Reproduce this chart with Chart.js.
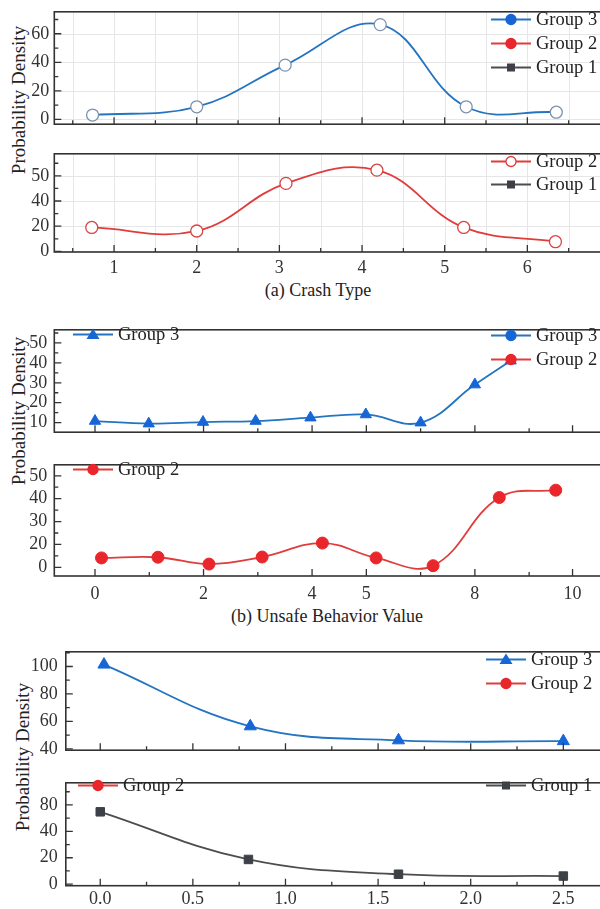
<!DOCTYPE html>
<html lang="en">
<head>
  <meta charset="UTF-8" />
  <title>Probability Density</title>
  <script src="https://cdn.jsdelivr.net/npm/chart.js"></script>
  <style>
    html, body { margin: 0; padding: 0; background: #fff; overflow: hidden; }
    #fig { position: relative; width: 600px; height: 909px; overflow: hidden;
           font-family: "Liberation Serif", serif; color: #222; }
    .panel { position: absolute; left: 0; width: 620px; }
    .ylab { position: absolute; transform: translate(-50%, -50%) rotate(-90deg);
            white-space: nowrap; font-size: 19px; line-height: 1; }
    .cap { position: absolute; transform: translate(-50%, -50%); font-size: 18px; white-space: nowrap; }
    .leg { position: absolute; display: flex; align-items: center; transform: translateY(-50%);
           font-size: 18.5px; white-space: nowrap; }
    .leg svg { margin-right: 5px; }
  </style>
</head>

<body>
  <div id="fig">
    <div class="ylab" style="left:18px; top:100px">Probability Density</div>
    <div class="ylab" style="left:18px; top:411px">Probability Density</div>
    <div class="ylab" style="left:22px; top:757px">Probability Density</div>
    <div class="cap" style="left:318px; top:290px">(a) Crash Type</div>
    <div class="cap" style="left:327px; top:616px">(b) Unsafe Behavior Value</div>
  </div>

  <script>
    // (a) Crash Type
    const crashTicks = [1, 2, 3, 4, 5, 6];
    const crashTickLabels = ["1", "2", "3", "4", "5", "6"];
    const crashXTop = [0.74, 2.0, 3.07, 4.22, 5.26, 6.35];
    const crashGroup3 = [3, 8.8, 38, 66.4, 8.8, 5];
    const crashXBottom = [0.73, 2.0, 3.08, 4.18, 5.23, 6.34];
    const crashGroup2 = [19, 16.2, 54, 64.5, 19, 7.7];
    const crashYTicks = [0, 20, 40, 60];
    const crashYLabelsTop = ["0", "20", "40", "60"];
    const crashYLabelsBottom = ["0", "20", "40", "50"];

    // (b) Unsafe Behavior Value
    const unsafeTicks = [0, 2, 4, 5, 7, 8.8];
    const unsafeTickLabels = ["0", "2", "4", "5", "8", "10"];
    const unsafeXTop = [0, 0.99, 1.99, 2.96, 3.97, 4.99, 6.0, 7.0, 7.66];
    const unsafeGroup3 = [10.8, 9.5, 10.3, 10.8, 12.5, 14.1, 10, 29.1, 41.1];
    const unsafeXBottom = [0.12, 1.16, 2.1, 3.08, 4.19, 5.18, 6.23, 7.45, 8.49];
    const unsafeGroup2 = [14.1, 14.4, 11.4, 14.5, 20.6, 14.1, 10.7, 40.5, 43.7];
    const unsafeYTicks = [10, 20, 30, 40, 50];
    const unsafeYLabelsTop = ["10", "20", "30", "40", "50"];
    const unsafeYLabelsBottom = ["0", "20", "30", "40", "50"];

    // (c)
    const cTicks = [0, 0.5, 1, 1.5, 2, 2.5];
    const cTickLabels = ["0.0", "0.5", "1.0", "1.5", "2.0", "2.5"];
    const cXTop = [0.02, 0.81, 1.61, 2.5];
    const cGroup3 = [101.4, 56.4, 46.2, 45.6];
    const cXBottom = [0, 0.8, 1.61, 2.5];
    const cGroup1 = [54.8, 18.7, 7.5, 6.1];
    const cYTicksTop = [40, 60, 80, 100];
    const cYLabelsTop = ["40", "60", "80", "100"];
    const cYTicksBottom = [0, 20, 40, 60];
    const cYLabelsBottom = ["0", "20", "40", "80"];

    const BLUE = "#2474c2", BLUE_PT = "#1766d6";
    const RED = "#e03c3c", RED_PT = "#e8262b";
    const GRAY = "#4d4d4d", GRAY_PT = "#3d4147";

    Chart.defaults.font.family = '"Liberation Serif", serif';
    Chart.defaults.color = "#333";

    const toPts = (xs, ys) => xs.map((x, i) => ({ x: x, y: ys[i] }));

    const panels = [
      {
        top: 6.7, bottom: 138, left: 54.3, grid: true,
        xMin: 0.277, xMax: 7.0, yMin: -3.4, yMax: 75.4,
        xTicks: crashTicks, xMinor: [0.5, 1.5, 2.5, 3.5, 4.5, 5.5, 6.5],
        yTicks: crashYTicks, yLabels: crashYLabelsTop, yMinor: [10, 30, 50, 70], yPad: 5,
        dataset: { data: toPts(crashXTop, crashGroup3), borderColor: BLUE, pointStyle: "circle",
                   pointRadius: 6, pointBackgroundColor: "#fff", pointBorderColor: "#7d93ad", pointBorderWidth: 1.3 },
        legend: [
          { x: 491, y: 19, text: "Group 3", color: BLUE, fill: BLUE_PT, marker: "circle" },
          { x: 491, y: 43, text: "Group 2", color: RED, fill: RED_PT, marker: "circle" },
          { x: 491, y: 67, text: "Group 1", color: GRAY, fill: GRAY_PT, marker: "rect" }
        ]
      },
      {
        top: 148.3, bottom: 252, left: 54.3, grid: true,
        xMin: 0.277, xMax: 7.0, yMin: -0.5, yMax: 77.5,
        xTicks: crashTicks, xLabels: crashTickLabels, xMinor: [0.5, 1.5, 2.5, 3.5, 4.5, 5.5, 6.5], xPad: 5,
        yTicks: crashYTicks, yLabels: crashYLabelsBottom, yMinor: [10, 30, 50, 70], yPad: 5,
        dataset: { data: toPts(crashXBottom, crashGroup2), borderColor: RED, pointStyle: "circle",
                   pointRadius: 6, pointBackgroundColor: "#fff", pointBorderColor: "#d64545", pointBorderWidth: 1.3 },
        legend: [
          { x: 491, y: 161, text: "Group 2", color: RED, fill: "#fff", marker: "circle" },
          { x: 491, y: 184, text: "Group 1", color: GRAY, fill: GRAY_PT, marker: "rect" }
        ]
      },
      {
        top: 322.3, bottom: 447.7, left: 54.3,
        xMin: -0.75, xMax: 9.49, yMin: 5.2, yMax: 56.6,
        xTicks: unsafeTicks, xMinor: [1, 3, 6, 8],
        yTicks: unsafeYTicks, yLabels: unsafeYLabelsTop, yMinor: [15, 25, 35, 45, 55], yPad: 7,
        dataset: { data: toPts(unsafeXTop, unsafeGroup3), borderColor: BLUE, pointStyle: "triangle",
                   pointRadius: 6.5, pointBackgroundColor: BLUE_PT, pointBorderColor: BLUE_PT, pointBorderWidth: 1 },
        legend: [
          { x: 73, y: 334, text: "Group 3", color: BLUE, fill: BLUE_PT, marker: "triangle" },
          { x: 491, y: 335, text: "Group 3", color: BLUE, fill: BLUE_PT, marker: "circle" },
          { x: 491, y: 359, text: "Group 2", color: RED, fill: RED_PT, marker: "circle" }
        ]
      },
      {
        top: 457.3, bottom: 576, left: 54.3,
        xMin: -0.75, xMax: 9.49, yMin: 6.2, yMax: 54.8,
        xTicks: unsafeTicks, xLabels: unsafeTickLabels, xMinor: [1, 3, 6, 8], xPad: 7,
        yTicks: unsafeYTicks, yLabels: unsafeYLabelsBottom, yMinor: [15, 25, 35, 45], yPad: 7,
        dataset: { data: toPts(unsafeXBottom, unsafeGroup2), borderColor: RED, pointStyle: "circle",
                   pointRadius: 6, pointBackgroundColor: RED_PT, pointBorderColor: RED_PT, pointBorderWidth: 1 },
        legend: [
          { x: 73, y: 469, text: "Group 2", color: RED, fill: RED_PT, marker: "circle" }
        ]
      },
      {
        top: 643.3, bottom: 766.7, left: 65.8,
        xMin: -0.186, xMax: 2.752, yMin: 39, yMax: 110.7,
        xTicks: cTicks, xMinor: [0.25, 0.75, 1.25, 1.75, 2.25, 2.75],
        yTicks: cYTicksTop, yLabels: cYLabelsTop, yMinor: [50, 70, 90, 110], yPad: 8,
        dataset: { data: toPts(cXTop, cGroup3), borderColor: BLUE, pointStyle: "triangle",
                   pointRadius: 7, pointBackgroundColor: BLUE_PT, pointBorderColor: BLUE_PT, pointBorderWidth: 1 },
        legend: [
          { x: 486, y: 659, text: "Group 3", color: BLUE, fill: BLUE_PT, marker: "triangle" },
          { x: 486, y: 683, text: "Group 2", color: RED, fill: RED_PT, marker: "circle" }
        ]
      },
      {
        top: 774.3, bottom: 885.7, left: 65.8,
        xMin: -0.186, xMax: 2.752, yMin: -1.2, yMax: 76.8,
        xTicks: cTicks, xLabels: cTickLabels, xMinor: [0.25, 0.75, 1.25, 1.75, 2.25, 2.75], xPad: 3,
        yTicks: cYTicksBottom, yLabels: cYLabelsBottom, yMinor: [10, 30, 50, 70], yPad: 8,
        dataset: { data: toPts(cXBottom, cGroup1), borderColor: GRAY, pointStyle: "rect",
                   pointRadius: 6, pointBackgroundColor: GRAY_PT, pointBorderColor: GRAY_PT, pointBorderWidth: 1 },
        legend: [
          { x: 78, y: 785, text: "Group 2", color: RED, fill: RED_PT, marker: "circle" },
          { x: 486, y: 785, text: "Group 1", color: GRAY, fill: GRAY_PT, marker: "rect" }
        ]
      }
    ];

    // frame, inward tick marks and light grid for one panel
    function framePlugin(p) {
      return {
        id: "frame",
        beforeDatasetsDraw(chart) {
          if (!p.grid) return;
          const { ctx, chartArea: a, scales: { x, y } } = chart;
          ctx.save();
          ctx.strokeStyle = "#e6e6e6";
          ctx.lineWidth = 1;
          ctx.beginPath();
          p.xTicks.concat(p.xMinor).forEach(v => {
            const px = Math.round(x.getPixelForValue(v)) + 0.5;
            ctx.moveTo(px, a.top); ctx.lineTo(px, a.bottom);
          });
          p.yTicks.forEach(v => {
            const py = Math.round(y.getPixelForValue(v)) + 0.5;
            ctx.moveTo(a.left, py); ctx.lineTo(a.right, py);
          });
          ctx.stroke();
          ctx.restore();
        },
        afterDraw(chart) {
          const { ctx, chartArea: a, scales: { x, y } } = chart;
          ctx.save();
          ctx.strokeStyle = "#333";
          ctx.lineWidth = 1.6;
          ctx.strokeRect(a.left, a.top, a.right - a.left, a.bottom - a.top);
          ctx.lineWidth = 1.3;
          ctx.beginPath();
          const xt = (v, len) => { const px = x.getPixelForValue(v); ctx.moveTo(px, a.bottom); ctx.lineTo(px, a.bottom - len); };
          const yt = (v, len) => { const py = y.getPixelForValue(v); ctx.moveTo(a.left, py); ctx.lineTo(a.left + len, py); };
          p.xTicks.forEach(v => xt(v, 7));
          p.xMinor.forEach(v => xt(v, 4));
          p.yTicks.forEach(v => yt(v, 7));
          p.yMinor.forEach(v => { if (v > p.yMin && v < p.yMax) yt(v, 4); });
          ctx.stroke();
          ctx.restore();
        }
      };
    }

    function legendSvg(item) {
      let mark = "";
      if (item.marker === "circle") {
        mark = `<circle cx="20" cy="7" r="5" fill="${item.fill}" stroke="${item.fill === "#fff" ? item.color : item.fill}" stroke-width="1.3"/>`;
      } else if (item.marker === "rect") {
        mark = `<rect x="16" y="3" width="8" height="8" fill="${item.fill}"/>`;
      } else {
        mark = `<polygon points="20,1 26.5,11.5 13.5,11.5" fill="${item.fill}"/>`;
      }
      return `<svg width="40" height="14" viewBox="0 0 40 14">
        <line x1="0" y1="7" x2="40" y2="7" stroke="${item.color}" stroke-width="2"/>${mark}</svg>`;
    }

    const fig = document.getElementById("fig");

    panels.forEach(p => {
      const divTop = Math.floor(p.top) - 10;
      const axisH = p.xLabels ? 34 : 2;
      const height = Math.ceil(p.bottom - divTop) + axisH;
      const box = document.createElement("div");
      box.className = "panel";
      box.style.top = divTop + "px";
      box.style.height = height + "px";
      const canvas = document.createElement("canvas");
      box.appendChild(canvas);
      fig.appendChild(box);

      new Chart(canvas, {
        type: "line",
        data: {
          datasets: [Object.assign({ borderWidth: 1.8, tension: 0.4, fill: false }, p.dataset)]
        },
        options: {
          responsive: true,
          maintainAspectRatio: false,
          animation: false,
          layout: { padding: { top: p.top - divTop, right: 10, left: 0, bottom: 0 } },
          plugins: { legend: { display: false }, tooltip: { enabled: false } },
          scales: {
            x: {
              type: "linear", min: p.xMin, max: p.xMax,
              grid: { display: false, drawTicks: false },
              border: { display: false },
              afterBuildTicks: s => { s.ticks = p.xTicks.map(v => ({ value: v })); },
              afterFit: s => { s.height = height - (p.bottom - divTop); },
              ticks: {
                display: !!p.xLabels, autoSkip: false, maxRotation: 0, padding: p.xPad || 0,
                font: { size: 18 }, color: "#333",
                callback: (v, i) => (p.xLabels ? p.xLabels[i] : "")
              }
            },
            y: {
              type: "linear", min: p.yMin, max: p.yMax,
              grid: { display: false, drawTicks: false },
              border: { display: false },
              afterBuildTicks: s => { s.ticks = p.yTicks.map(v => ({ value: v })); },
              afterFit: s => { s.width = p.left; },
              ticks: {
                autoSkip: false, padding: p.yPad, font: { size: 18 }, color: "#333",
                callback: (v, i) => p.yLabels[i]
              }
            }
          }
        },
        plugins: [framePlugin(p)]
      });

      p.legend.forEach(item => {
        const el = document.createElement("div");
        el.className = "leg";
        el.style.left = item.x + "px";
        el.style.top = item.y + "px";
        el.innerHTML = legendSvg(item) + `<span>${item.text}</span>`;
        fig.appendChild(el);
      });
    });
  </script>
</body>
</html>
